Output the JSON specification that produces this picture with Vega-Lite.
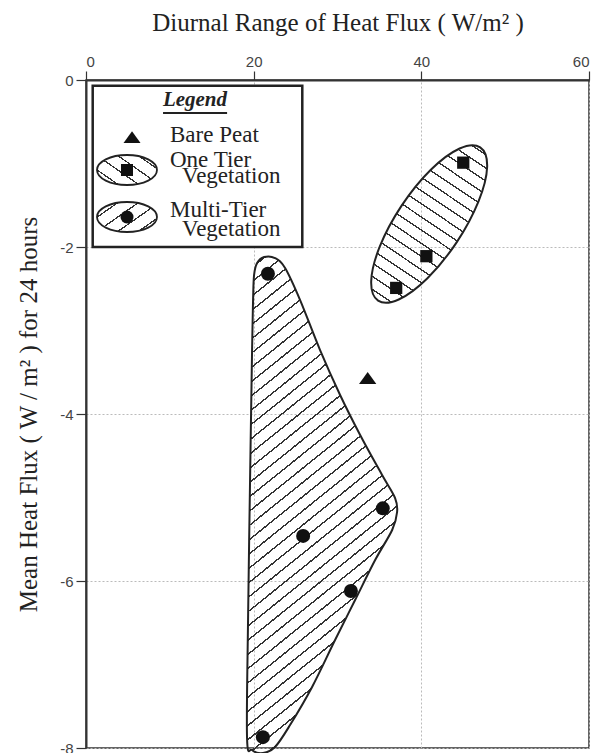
{
"$schema":"https://vega.github.io/schema/vega-lite/v6.json",
"width":503,"height":668,
"autosize":{"type":"none"},
"padding":{"left":86,"top":80,"right":14,"bottom":5},
"background":"white",
"config":{"view":{"stroke":"#333","strokeWidth":1.5}},
"encoding":{
 "x":{"field":"x","type":"quantitative","scale":{"domain":[0,60],"nice":false,"zero":false},
  "axis":{"orient":"top","values":[0,20,40,60],"title":"Diurnal Range of Heat Flux  ( W/m² )","titleFont":"Liberation Serif","titleFontSize":25,"titleFontWeight":"normal","titleColor":"#222","titleY":-50,"titleBaseline":"alphabetic","labelFont":"Liberation Sans","labelFontSize":15,"labelColor":"#444","labelPadding":2,"tickSize":9,"tickColor":"#333","tickWidth":1.2,"domainColor":"#333","domainWidth":2,"grid":true,"gridColor":"#bbb","gridDash":[2,2],"gridWidth":1}},
 "y":{"field":"y","type":"quantitative","scale":{"domain":[-8,0],"nice":false,"zero":false},
  "axis":{"orient":"left","values":[0,-2,-4,-6,-8],"labelExpr":"datum.value == 0 ? '0' : '-' + abs(datum.value)","title":"Mean Heat Flux  ( W / m² )  for 24 hours","titleFont":"Liberation Serif","titleFontSize":25,"titleFontWeight":"normal","titleColor":"#222","titleX":-50,"titleBaseline":"alphabetic","labelFont":"Liberation Sans","labelFontSize":15,"labelColor":"#444","labelPadding":3,"tickSize":10,"tickColor":"#333","tickWidth":1.2,"domainColor":"#333","domainWidth":2,"grid":true,"gridColor":"#bbb","gridDash":[2,2],"gridWidth":1}}
},
"layer":[
 {"data":{"values":[{"x":0.8,"x2":25.8,"y":-0.07,"y2":-2.0}]},
  "mark":{"type":"rect","fill":"white","stroke":"#222","strokeWidth":2.5},
  "encoding":{"x2":{"field":"x2"},"y2":{"field":"y2"}}},
 {"data":{"values":[
  {"i":0,"x":20.05,"y":-2.335},{"i":1,"x":20.41,"y":-2.192},{"i":2,"x":21.24,"y":-2.12},{"i":3,"x":22.55,"y":-2.132},{"i":4,"x":23.75,"y":-2.251},{"i":5,"x":25.54,"y":-2.635},{"i":6,"x":27.92,"y":-3.234},{"i":7,"x":30.31,"y":-3.772},{"i":8,"x":32.7,"y":-4.251},{"i":9,"x":35.32,"y":-4.731},{"i":10,"x":36.87,"y":-5.006},{"i":11,"x":37.11,"y":-5.174},{"i":12,"x":36.52,"y":-5.389},{"i":13,"x":34.49,"y":-5.749},{"i":14,"x":32.1,"y":-6.228},{"i":15,"x":29.71,"y":-6.707},{"i":16,"x":26.97,"y":-7.269},{"i":17,"x":24.34,"y":-7.725},{"i":18,"x":22.55,"y":-7.988},{"i":19,"x":21.12,"y":-8.06},{"i":20,"x":19.81,"y":-8.024},{"i":21,"x":19.21,"y":-7.88},{"i":22,"x":19.33,"y":-6.467},{"i":23,"x":19.57,"y":-4.79},{"i":24,"x":19.81,"y":-3.234},{"i":25,"x":19.93,"y":-2.635}]},
  "mark":{"type":"line","interpolate":"cardinal-closed","stroke":"#222","strokeWidth":2,
   "fill":{"gradient":"linear","x1":0,"y1":0,"x2":0.2864,"y2":1.1741,"stops":[
{"offset":0,"color":"transparent"},
{"offset":0.023,"color":"transparent"},{"offset":0.023,"color":"#333"},{"offset":0.026,"color":"#333"},{"offset":0.026,"color":"transparent"},
{"offset":0.046,"color":"transparent"},{"offset":0.046,"color":"#333"},{"offset":0.049,"color":"#333"},{"offset":0.049,"color":"transparent"},
{"offset":0.069,"color":"transparent"},{"offset":0.069,"color":"#333"},{"offset":0.072,"color":"#333"},{"offset":0.072,"color":"transparent"},
{"offset":0.092,"color":"transparent"},{"offset":0.092,"color":"#333"},{"offset":0.095,"color":"#333"},{"offset":0.095,"color":"transparent"},
{"offset":0.115,"color":"transparent"},{"offset":0.115,"color":"#333"},{"offset":0.118,"color":"#333"},{"offset":0.118,"color":"transparent"},
{"offset":0.138,"color":"transparent"},{"offset":0.138,"color":"#333"},{"offset":0.141,"color":"#333"},{"offset":0.141,"color":"transparent"},
{"offset":0.161,"color":"transparent"},{"offset":0.161,"color":"#333"},{"offset":0.164,"color":"#333"},{"offset":0.164,"color":"transparent"},
{"offset":0.184,"color":"transparent"},{"offset":0.184,"color":"#333"},{"offset":0.187,"color":"#333"},{"offset":0.187,"color":"transparent"},
{"offset":0.207,"color":"transparent"},{"offset":0.207,"color":"#333"},{"offset":0.21,"color":"#333"},{"offset":0.21,"color":"transparent"},
{"offset":0.23,"color":"transparent"},{"offset":0.23,"color":"#333"},{"offset":0.233,"color":"#333"},{"offset":0.233,"color":"transparent"},
{"offset":0.253,"color":"transparent"},{"offset":0.253,"color":"#333"},{"offset":0.256,"color":"#333"},{"offset":0.256,"color":"transparent"},
{"offset":0.276,"color":"transparent"},{"offset":0.276,"color":"#333"},{"offset":0.279,"color":"#333"},{"offset":0.279,"color":"transparent"},
{"offset":0.299,"color":"transparent"},{"offset":0.299,"color":"#333"},{"offset":0.302,"color":"#333"},{"offset":0.302,"color":"transparent"},
{"offset":0.322,"color":"transparent"},{"offset":0.322,"color":"#333"},{"offset":0.325,"color":"#333"},{"offset":0.325,"color":"transparent"},
{"offset":0.345,"color":"transparent"},{"offset":0.345,"color":"#333"},{"offset":0.348,"color":"#333"},{"offset":0.348,"color":"transparent"},
{"offset":0.368,"color":"transparent"},{"offset":0.368,"color":"#333"},{"offset":0.371,"color":"#333"},{"offset":0.371,"color":"transparent"},
{"offset":0.391,"color":"transparent"},{"offset":0.391,"color":"#333"},{"offset":0.394,"color":"#333"},{"offset":0.394,"color":"transparent"},
{"offset":0.414,"color":"transparent"},{"offset":0.414,"color":"#333"},{"offset":0.417,"color":"#333"},{"offset":0.417,"color":"transparent"},
{"offset":0.437,"color":"transparent"},{"offset":0.437,"color":"#333"},{"offset":0.44,"color":"#333"},{"offset":0.44,"color":"transparent"},
{"offset":0.46,"color":"transparent"},{"offset":0.46,"color":"#333"},{"offset":0.463,"color":"#333"},{"offset":0.463,"color":"transparent"},
{"offset":0.483,"color":"transparent"},{"offset":0.483,"color":"#333"},{"offset":0.486,"color":"#333"},{"offset":0.486,"color":"transparent"},
{"offset":0.506,"color":"transparent"},{"offset":0.506,"color":"#333"},{"offset":0.509,"color":"#333"},{"offset":0.509,"color":"transparent"},
{"offset":0.529,"color":"transparent"},{"offset":0.529,"color":"#333"},{"offset":0.532,"color":"#333"},{"offset":0.532,"color":"transparent"},
{"offset":0.552,"color":"transparent"},{"offset":0.552,"color":"#333"},{"offset":0.555,"color":"#333"},{"offset":0.555,"color":"transparent"},
{"offset":0.575,"color":"transparent"},{"offset":0.575,"color":"#333"},{"offset":0.578,"color":"#333"},{"offset":0.578,"color":"transparent"},
{"offset":0.598,"color":"transparent"},{"offset":0.598,"color":"#333"},{"offset":0.601,"color":"#333"},{"offset":0.601,"color":"transparent"},
{"offset":0.621,"color":"transparent"},{"offset":0.621,"color":"#333"},{"offset":0.624,"color":"#333"},{"offset":0.624,"color":"transparent"},
{"offset":0.644,"color":"transparent"},{"offset":0.644,"color":"#333"},{"offset":0.647,"color":"#333"},{"offset":0.647,"color":"transparent"},
{"offset":0.667,"color":"transparent"},{"offset":0.667,"color":"#333"},{"offset":0.67,"color":"#333"},{"offset":0.67,"color":"transparent"},
{"offset":0.69,"color":"transparent"},{"offset":0.69,"color":"#333"},{"offset":0.693,"color":"#333"},{"offset":0.693,"color":"transparent"},
{"offset":0.713,"color":"transparent"},{"offset":0.713,"color":"#333"},{"offset":0.716,"color":"#333"},{"offset":0.716,"color":"transparent"},
{"offset":0.736,"color":"transparent"},{"offset":0.736,"color":"#333"},{"offset":0.739,"color":"#333"},{"offset":0.739,"color":"transparent"},
{"offset":0.759,"color":"transparent"},{"offset":0.759,"color":"#333"},{"offset":0.762,"color":"#333"},{"offset":0.762,"color":"transparent"},
{"offset":0.782,"color":"transparent"},{"offset":0.782,"color":"#333"},{"offset":0.785,"color":"#333"},{"offset":0.785,"color":"transparent"},
{"offset":0.805,"color":"transparent"},{"offset":0.805,"color":"#333"},{"offset":0.808,"color":"#333"},{"offset":0.808,"color":"transparent"},
{"offset":0.828,"color":"transparent"},{"offset":0.828,"color":"#333"},{"offset":0.831,"color":"#333"},{"offset":0.831,"color":"transparent"},
{"offset":0.851,"color":"transparent"},{"offset":0.851,"color":"#333"},{"offset":0.854,"color":"#333"},{"offset":0.854,"color":"transparent"},
{"offset":0.874,"color":"transparent"},{"offset":0.874,"color":"#333"},{"offset":0.877,"color":"#333"},{"offset":0.877,"color":"transparent"},
{"offset":0.897,"color":"transparent"},{"offset":0.897,"color":"#333"},{"offset":0.9,"color":"#333"},{"offset":0.9,"color":"transparent"},
{"offset":0.92,"color":"transparent"},{"offset":0.92,"color":"#333"},{"offset":0.923,"color":"#333"},{"offset":0.923,"color":"transparent"},
{"offset":0.943,"color":"transparent"},{"offset":0.943,"color":"#333"},{"offset":0.946,"color":"#333"},{"offset":0.946,"color":"transparent"},
{"offset":0.966,"color":"transparent"},{"offset":0.966,"color":"#333"},{"offset":0.969,"color":"#333"},{"offset":0.969,"color":"transparent"},
{"offset":0.989,"color":"transparent"},{"offset":0.989,"color":"#333"},{"offset":0.992,"color":"#333"},{"offset":0.992,"color":"transparent"},
{"offset":1,"color":"transparent"}]}},
  "encoding":{"order":{"field":"i","type":"quantitative"}}},
 {"data":{"values":[
  {"i":0,"x":47.02,"y":-0.807},{"i":1,"x":47.85,"y":-1.041},{"i":2,"x":46.81,"y":-1.456},{"i":3,"x":44.21,"y":-1.944},{"i":4,"x":40.73,"y":-2.374},{"i":5,"x":37.3,"y":-2.629},{"i":6,"x":34.84,"y":-2.642},{"i":7,"x":34.02,"y":-2.409},{"i":8,"x":35.05,"y":-1.993},{"i":9,"x":37.65,"y":-1.505},{"i":10,"x":41.13,"y":-1.075},{"i":11,"x":44.57,"y":-0.82}]},
  "mark":{"type":"line","interpolate":"cardinal-closed","stroke":"#222","strokeWidth":2,
   "fill":{"gradient":"linear","x1":0,"y1":1,"x2":0.595,"y2":-0.201,"stops":[
{"offset":0,"color":"transparent"},
{"offset":0.056,"color":"transparent"},{"offset":0.056,"color":"#333"},{"offset":0.063,"color":"#333"},{"offset":0.063,"color":"transparent"},
{"offset":0.112,"color":"transparent"},{"offset":0.112,"color":"#333"},{"offset":0.119,"color":"#333"},{"offset":0.119,"color":"transparent"},
{"offset":0.168,"color":"transparent"},{"offset":0.168,"color":"#333"},{"offset":0.175,"color":"#333"},{"offset":0.175,"color":"transparent"},
{"offset":0.224,"color":"transparent"},{"offset":0.224,"color":"#333"},{"offset":0.231,"color":"#333"},{"offset":0.231,"color":"transparent"},
{"offset":0.28,"color":"transparent"},{"offset":0.28,"color":"#333"},{"offset":0.287,"color":"#333"},{"offset":0.287,"color":"transparent"},
{"offset":0.336,"color":"transparent"},{"offset":0.336,"color":"#333"},{"offset":0.343,"color":"#333"},{"offset":0.343,"color":"transparent"},
{"offset":0.392,"color":"transparent"},{"offset":0.392,"color":"#333"},{"offset":0.399,"color":"#333"},{"offset":0.399,"color":"transparent"},
{"offset":0.448,"color":"transparent"},{"offset":0.448,"color":"#333"},{"offset":0.455,"color":"#333"},{"offset":0.455,"color":"transparent"},
{"offset":0.504,"color":"transparent"},{"offset":0.504,"color":"#333"},{"offset":0.511,"color":"#333"},{"offset":0.511,"color":"transparent"},
{"offset":0.56,"color":"transparent"},{"offset":0.56,"color":"#333"},{"offset":0.567,"color":"#333"},{"offset":0.567,"color":"transparent"},
{"offset":0.616,"color":"transparent"},{"offset":0.616,"color":"#333"},{"offset":0.623,"color":"#333"},{"offset":0.623,"color":"transparent"},
{"offset":0.672,"color":"transparent"},{"offset":0.672,"color":"#333"},{"offset":0.679,"color":"#333"},{"offset":0.679,"color":"transparent"},
{"offset":0.728,"color":"transparent"},{"offset":0.728,"color":"#333"},{"offset":0.735,"color":"#333"},{"offset":0.735,"color":"transparent"},
{"offset":0.784,"color":"transparent"},{"offset":0.784,"color":"#333"},{"offset":0.791,"color":"#333"},{"offset":0.791,"color":"transparent"},
{"offset":0.84,"color":"transparent"},{"offset":0.84,"color":"#333"},{"offset":0.847,"color":"#333"},{"offset":0.847,"color":"transparent"},
{"offset":0.896,"color":"transparent"},{"offset":0.896,"color":"#333"},{"offset":0.903,"color":"#333"},{"offset":0.903,"color":"transparent"},
{"offset":0.952,"color":"transparent"},{"offset":0.952,"color":"#333"},{"offset":0.959,"color":"#333"},{"offset":0.959,"color":"transparent"},
{"offset":1,"color":"transparent"}]}},
  "encoding":{"order":{"field":"i","type":"quantitative"}}},
 {"data":{"values":[{"g":"Bare Peat","x":33.6,"y":-3.57}]},
  "mark":{"type":"point","shape":"M0,-0.69L1,0.69L-1,0.69Z","size":300,"filled":true,"color":"#111","opacity":1}},
 {"data":{"values":[{"g":"One Tier Vegetation","x":45.0,"y":-0.99},{"g":"One Tier Vegetation","x":40.6,"y":-2.11},{"g":"One Tier Vegetation","x":37.0,"y":-2.49}]},
  "mark":{"type":"square","size":150,"color":"#111","opacity":1}},
 {"data":{"values":[{"g":"Multi-Tier Vegetation","x":21.7,"y":-2.32},{"g":"Multi-Tier Vegetation","x":35.4,"y":-5.13},{"g":"Multi-Tier Vegetation","x":25.9,"y":-5.46},{"g":"Multi-Tier Vegetation","x":31.6,"y":-6.12},{"g":"Multi-Tier Vegetation","x":21.1,"y":-7.87}]},
  "mark":{"type":"circle","size":196,"color":"#111","opacity":1}},
 {"data":{"values":[{"x":4.89,"y":-1.078}]},
  "mark":{"type":"point","shape":"M-1,0C-1,-0.276,-0.552,-0.5,0,-0.5C0.552,-0.5,1,-0.276,1,0C1,0.276,0.552,0.5,0,0.5C-0.552,0.5,-1,0.276,-1,0Z","size":3600,"filled":true,"stroke":"#222","strokeWidth":1.8,"opacity":1,
   "fill":{"gradient":"linear","x1":0,"y1":1,"x2":1.134,"y2":0.188,"stops":[
{"offset":0,"color":"transparent"},
{"offset":0.2,"color":"transparent"},{"offset":0.2,"color":"#333"},{"offset":0.222,"color":"#333"},{"offset":0.222,"color":"transparent"},
{"offset":0.4,"color":"transparent"},{"offset":0.4,"color":"#333"},{"offset":0.422,"color":"#333"},{"offset":0.422,"color":"transparent"},
{"offset":0.6,"color":"transparent"},{"offset":0.6,"color":"#333"},{"offset":0.622,"color":"#333"},{"offset":0.622,"color":"transparent"},
{"offset":0.8,"color":"transparent"},{"offset":0.8,"color":"#333"},{"offset":0.822,"color":"#333"},{"offset":0.822,"color":"transparent"},
{"offset":1,"color":"transparent"}]}}},
 {"data":{"values":[{"x":4.89,"y":-1.641}]},
  "mark":{"type":"point","shape":"M-1,0C-1,-0.276,-0.552,-0.5,0,-0.5C0.552,-0.5,1,-0.276,1,0C1,0.276,0.552,0.5,0,0.5C-0.552,0.5,-1,0.276,-1,0Z","size":3600,"filled":true,"stroke":"#222","strokeWidth":1.8,"opacity":1,
   "fill":{"gradient":"linear","x1":0,"y1":0,"x2":1.134,"y2":0.812,"stops":[
{"offset":0,"color":"transparent"},
{"offset":0.2,"color":"transparent"},{"offset":0.2,"color":"#333"},{"offset":0.222,"color":"#333"},{"offset":0.222,"color":"transparent"},
{"offset":0.4,"color":"transparent"},{"offset":0.4,"color":"#333"},{"offset":0.422,"color":"#333"},{"offset":0.422,"color":"transparent"},
{"offset":0.6,"color":"transparent"},{"offset":0.6,"color":"#333"},{"offset":0.622,"color":"#333"},{"offset":0.622,"color":"transparent"},
{"offset":0.8,"color":"transparent"},{"offset":0.8,"color":"#333"},{"offset":0.822,"color":"#333"},{"offset":0.822,"color":"transparent"},
{"offset":1,"color":"transparent"}]}}},
 {"data":{"values":[{"x":5.49,"y":-0.683}]},
  "mark":{"type":"point","shape":"M0,-0.69L1,0.69L-1,0.69Z","size":289,"filled":true,"color":"#111","opacity":1}},
 {"data":{"values":[{"x":4.89,"y":-1.078}]},
  "mark":{"type":"square","size":144,"color":"#111","opacity":1}},
 {"data":{"values":[{"x":4.89,"y":-1.641}]},
  "mark":{"type":"circle","size":169,"color":"#111","opacity":1}},
 {"data":{"values":[{"x":10.02,"y":-0.743,"t":"Bare Peat"},{"x":10.02,"y":-1.042,"t":"One Tier"},{"x":11.46,"y":-1.234,"t":"Vegetation"},{"x":10.02,"y":-1.641,"t":"Multi-Tier"},{"x":11.46,"y":-1.868,"t":"Vegetation"}]},
  "mark":{"type":"text","font":"Liberation Serif","fontSize":23,"color":"#222","align":"left","baseline":"alphabetic"},
  "encoding":{"text":{"field":"t"}}},
 {"data":{"values":[{"x":13.0,"y":-0.311,"t":"Legend"}]},
  "mark":{"type":"text","font":"Liberation Serif","fontSize":21,"fontStyle":"italic","fontWeight":"bold","color":"#222","align":"center","baseline":"alphabetic"},
  "encoding":{"text":{"field":"t"}}},
 {"data":{"values":[{"x":9.19,"x2":16.83,"y":-0.395}]},
  "mark":{"type":"rule","color":"#222","strokeWidth":2},
  "encoding":{"x2":{"field":"x2"}}}
]
}
